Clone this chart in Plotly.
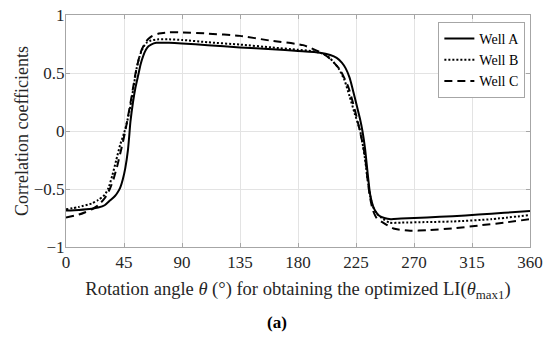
import plotly.graph_objects as go

# Well A (solid)
xa = [0, 10, 20, 25, 30, 34, 38, 40, 42, 44, 46, 48, 49, 50, 52, 54, 56, 58, 60, 62, 64, 66, 70, 80, 90, 110, 135, 160, 180, 197, 205, 210, 214, 217, 220, 222, 224, 226, 228, 230, 232, 234, 236, 238, 240, 243, 247, 252, 260, 280, 300, 320, 340, 360]
ya = [-0.685, -0.68, -0.67, -0.66, -0.64, -0.60, -0.56, -0.53, -0.49, -0.42, -0.32, -0.17, -0.05, 0.08, 0.25, 0.38, 0.48, 0.58, 0.65, 0.70, 0.73, 0.745, 0.76, 0.76, 0.755, 0.74, 0.72, 0.705, 0.69, 0.675, 0.655, 0.63, 0.59, 0.54, 0.46, 0.38, 0.29, 0.20, 0.11, 0.0, -0.15, -0.36, -0.55, -0.64, -0.69, -0.73, -0.75, -0.76, -0.755, -0.745, -0.735, -0.72, -0.705, -0.69]

# Well B (dotted)
xb = [0, 10, 20, 25, 30, 33, 36, 39, 42, 45, 47, 49, 51, 53, 55, 57, 59, 61, 63, 66, 72, 80, 90, 110, 135, 160, 180, 190, 197, 203, 208, 212, 216, 220, 224, 228, 230, 232, 234, 236, 238, 241, 245, 251, 260, 280, 300, 330, 360]
yb = [-0.675, -0.655, -0.625, -0.595, -0.55, -0.49, -0.38, -0.25, -0.12, -0.02, 0.06, 0.16, 0.28, 0.42, 0.55, 0.64, 0.70, 0.74, 0.765, 0.78, 0.79, 0.79, 0.785, 0.765, 0.745, 0.72, 0.70, 0.69, 0.675, 0.645, 0.59, 0.53, 0.44, 0.30, 0.15, 0.01, -0.10, -0.24, -0.42, -0.56, -0.65, -0.71, -0.75, -0.79, -0.79, -0.785, -0.78, -0.76, -0.725]

# Well C (dashed)
xc = [0, 10, 15, 20, 25, 30, 34, 37, 40, 43, 46, 48, 50, 52, 54, 56, 58, 60, 62, 64, 67, 72, 80, 90, 110, 135, 158, 184, 199, 205, 212.5, 219, 222, 225.5, 228, 230, 232, 234, 236, 238, 241, 246, 254, 267, 280, 300, 320, 340, 360]
yc = [-0.745, -0.72, -0.70, -0.675, -0.64, -0.58, -0.50, -0.41, -0.29, -0.15, 0.0, 0.12, 0.24, 0.37, 0.50, 0.60, 0.68, 0.73, 0.77, 0.795, 0.82, 0.84, 0.85, 0.85, 0.84, 0.82, 0.78, 0.74, 0.67, 0.62, 0.53, 0.38, 0.27, 0.12, 0.0, -0.10, -0.22, -0.42, -0.58, -0.68, -0.75, -0.79, -0.84, -0.86, -0.855, -0.84, -0.815, -0.79, -0.76]

xticks = [0, 45, 90, 135, 180, 225, 270, 315, 360]
yticks = [-1, -0.5, 0, 0.5, 1]
ytick_text = ["\u22121", "\u22120.5", "0", "0.5", "1"]

serif = "Liberation Serif"

fig = go.Figure()
fig.add_trace(go.Scatter(x=xa, y=ya, mode="lines", name="Well A",
                         line=dict(color="black", width=2, dash="solid", shape="spline", smoothing=0.6)))
fig.add_trace(go.Scatter(x=xb, y=yb, mode="lines", name="Well B",
                         line=dict(color="black", width=2, dash="2px,2px", shape="spline", smoothing=0.6)))
fig.add_trace(go.Scatter(x=xc, y=yc, mode="lines", name="Well C",
                         line=dict(color="black", width=2, dash="8px,5px", shape="spline", smoothing=0.6)))

axis_common = dict(showgrid=True, gridcolor="#e3e3e3", gridwidth=1, zeroline=False,
                   showline=True, linecolor="#a6a6a6", linewidth=1, mirror="ticks",
                   ticks="inside", ticklen=4, tickcolor="#a6a6a6", automargin=False,
                   tickfont=dict(family=serif, size=17, color="#262626"))

fig.update_xaxes(range=[0, 360], tickvals=xticks, ticktext=[str(v) for v in xticks],
                 title=dict(text="Rotation angle <i>θ</i> (°) for obtaining the optimized LI(<i>θ</i><sub>max1</sub>)",
                            font=dict(family=serif, size=18.5, color="#262626"), standoff=10),
                 **axis_common)
fig.update_yaxes(range=[-1, 1], tickvals=yticks, ticktext=ytick_text, ticklabelstandoff=-3,
                 title=dict(text="Correlation coefficients",
                            font=dict(family=serif, size=18, color="#262626"), standoff=0),
                 **axis_common)

fig.add_annotation(text="<b>(a)</b>", xref="paper", yref="paper", x=0.455, y=-0.325,
                   yanchor="middle", showarrow=False, font=dict(family=serif, size=17, color="black"))

fig.update_layout(
    width=550, height=338,
    margin=dict(l=66, r=20, t=15, b=91, autoexpand=False),
    paper_bgcolor="white", plot_bgcolor="white",
    font=dict(family=serif, color="#262626"),
    showlegend=True,
    legend=dict(x=0.99, y=0.97, xanchor="right", yanchor="top",
                bgcolor="white", bordercolor="#a6a6a6", borderwidth=1,
                font=dict(family=serif, size=14, color="black"),
                tracegroupgap=0, itemwidth=30),
)

fig.write_html("out.html", config={"displayModeBar": False},
               post_script="document.body.style.margin='0';document.body.style.overflow='hidden';")
